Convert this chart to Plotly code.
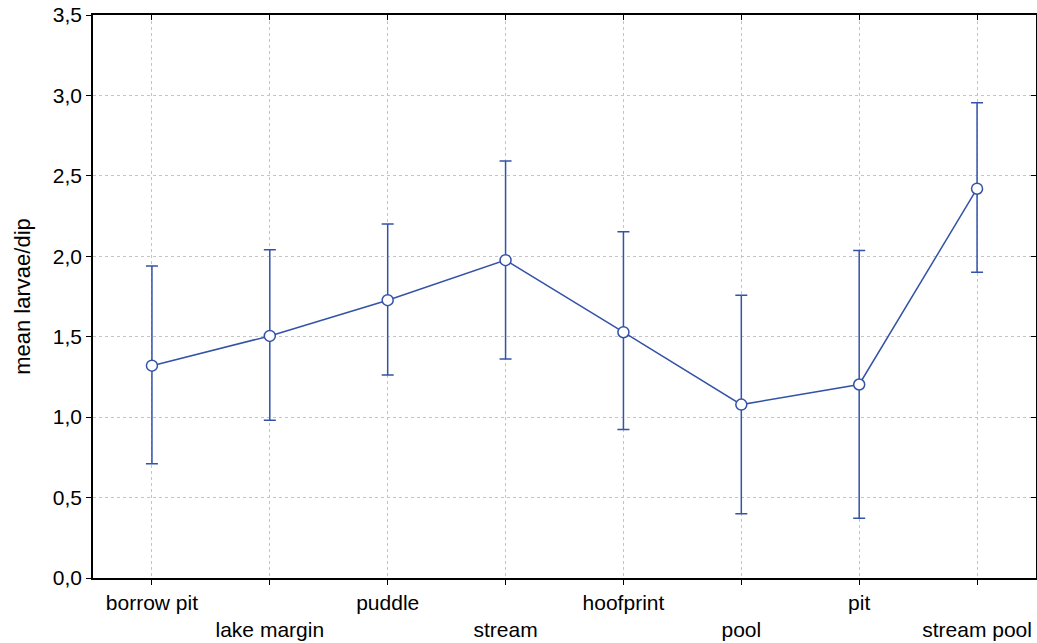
import plotly.graph_objects as go

# Breeding site types and mean larval density per dip, with interval bounds
habitats = ["borrow pit", "lake margin", "puddle", "stream",
            "hoofprint", "pool", "pit", "stream pool"]
mean_larvae = [1.32, 1.505, 1.727, 1.976, 1.528, 1.078, 1.203, 2.42]
upper_bound = [1.94, 2.04, 2.20, 2.593, 2.152, 1.758, 2.036, 2.954]
lower_bound = [0.71, 0.98, 1.262, 1.362, 0.923, 0.40, 0.371, 1.90]

y_ticks = [0.0, 0.5, 1.0, 1.5, 2.0, 2.5, 3.0, 3.5]

LINE = "#3352A8"
FONT = "Liberation Sans, Arial, sans-serif"

err_plus = [u - m for u, m in zip(upper_bound, mean_larvae)]
err_minus = [m - l for m, l in zip(mean_larvae, lower_bound)]

# alternate labels drop to a second row so neighbouring names don't collide
staggered = [h if i % 2 == 0 else "<br>" + h for i, h in enumerate(habitats)]
positions = list(range(len(habitats)))

fig = go.Figure()
fig.add_trace(go.Scatter(
    x=positions, y=mean_larvae,
    mode="lines+markers",
    line=dict(color=LINE, width=1.5),
    marker=dict(symbol="circle", size=11, color="white",
                line=dict(color=LINE, width=1.5)),
    error_y=dict(type="data", symmetric=False,
                 array=err_plus, arrayminus=err_minus,
                 color=LINE, thickness=1.5, width=6),
    showlegend=False,
    cliponaxis=False,
))

axis_common = dict(showline=True, linecolor="black", linewidth=1.5,
                   zeroline=False)

fig.update_layout(
    width=1037, height=643,
    margin=dict(l=93, r=1, t=15, b=65),
    paper_bgcolor="white", plot_bgcolor="white",
    separators=",.",
    font=dict(family=FONT, size=21, color="black"),
    xaxis=dict(
        **axis_common,
        range=[-0.5, 7.5],
        tickmode="array", tickvals=positions, ticktext=staggered,
        ticks="outside", ticklen=5, tickwidth=1, tickcolor="black",
        showgrid=True, gridcolor="#c4c4c4", griddash="dot", gridwidth=1,
        tickfont=dict(size=21),
    ),
    yaxis=dict(
        **axis_common,
        range=[0, 3.5],
        tickmode="array", tickvals=y_ticks, tickformat=".1f",
        ticks="outside", ticklen=5, tickwidth=1, tickcolor="black",
        showgrid=True, gridcolor="#c4c4c4", griddash="dot", gridwidth=1,
        tickfont=dict(size=21),
        title=dict(text="mean larvae/dip", font=dict(size=22), standoff=16),
    ),
    xaxis2=dict(
        overlaying="x", side="top", range=[-0.5, 7.5],
        tickmode="array", tickvals=positions, showticklabels=False,
        ticks="inside", ticklen=5, tickcolor="black",
        showline=True, linecolor="black", linewidth=1.5,
        showgrid=False, zeroline=False,
    ),
    yaxis2=dict(
        overlaying="y", side="right", range=[0, 3.5],
        tickmode="array", tickvals=y_ticks, showticklabels=False,
        ticks="inside", ticklen=5, tickcolor="black",
        showline=True, linecolor="black", linewidth=1.5,
        showgrid=False, zeroline=False,
    ),
)

# invisible trace to bring the top/right frame axes into the layout
fig.add_trace(go.Scatter(x=[None], y=[None], xaxis="x2", yaxis="y2",
                         showlegend=False, hoverinfo="skip"))

fig.write_html("out.html")
